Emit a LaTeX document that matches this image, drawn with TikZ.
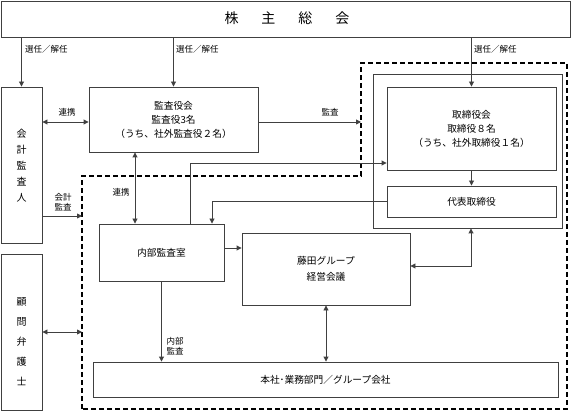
\documentclass[tikz,border=0pt]{standalone}
\usepackage{fontspec}
\setmainfont{Noto Sans CJK JP}
\usetikzlibrary{arrows.meta,calc}
\begin{document}
\begin{tikzpicture}[x=1pt,y=-1pt,
  line/.style={draw=black!75,line width=0.9pt},
  box/.style={line,rectangle,inner sep=0pt,anchor=center,font=\fontsize{9.7}{14}\selectfont,align=center},
  arr/.style={line,-{Triangle[length=5pt,width=5pt]}},
  dbl/.style={line,{Triangle[length=5pt,width=5pt]}-{Triangle[length=5pt,width=5pt]}},
  lbl/.style={font=\fontsize{8.5}{10.5}\selectfont,inner sep=0pt,align=center},
  vtext/.style={font=\fontsize{10}{16}\selectfont,inner sep=0pt,align=center},
  dashline/.style={draw=black,line width=1.6pt,dash pattern=on 5pt off 3pt}
]
\useasboundingbox (0,0) rectangle (572,411);
% helper coordinates
\coordinate (y122) at (0,122);
\coordinate (y163) at (0,163);
\coordinate (y216) at (0,216);
\coordinate (y248) at (0,248);
\coordinate (y266) at (0,266);
\coordinate (c135) at (135,0);
\coordinate (c190) at (190,0);
\coordinate (c212) at (212,0);
\coordinate (c471) at (471,0);
% dashed region
\coordinate (d1) at (82,409);
\coordinate (d2) at (82,176);
\coordinate (d3) at (361,176);
\coordinate (d4) at (361,63);
\coordinate (d5) at (567,63);
\coordinate (d6) at (567,409);
\draw[dashline] (d1) -- (d2) -- (d3) -- (d4) -- (d5) -- (d6) -- cycle;

% boxes
\node[box,minimum width=569pt,minimum height=36pt] (top) at (285.5,19) {};
\node[font=\fontsize{14}{16}\selectfont,inner sep=0pt] (toptext) at (287,18) {株\hspace{23pt}主\hspace{23pt}総\hspace{23pt}会};
\node[box,minimum width=41pt,minimum height=156pt] (kaikei) at (21.5,165) {};
\node[vtext] (kaikeitext) at (21.5,166) {会\\計\\監\\査\\人};
\node[box,minimum width=41pt,minimum height=156pt] (komon) at (21.5,332) {};
\node[vtext,font=\fontsize{10}{20}\selectfont] (komontext) at (21.5,342) {顧\\問\\弁\\護\\士};
\node[box,minimum width=169pt,minimum height=65pt] (kansa) at (173.5,119.5) {監査役会\\監査役3名\\（うち、社外監査役２名）};
\node[box,minimum width=189pt,minimum height=154pt] (outer) at (467.5,151) {};
\node[box,minimum width=169pt,minimum height=83pt] (tori) at (471.5,128.5) {取締役会\\取締役８名\\（うち、社外取締役１名）};
\node[box,minimum width=169pt,minimum height=31pt] (daihyo) at (471.5,201.5) {代表取締役};
\node[box,minimum width=125pt,minimum height=57pt] (naibu) at (161.5,252.5) {内部監査室};
\node[box,minimum width=168pt,minimum height=72pt,font=\fontsize{9.7}{16}\selectfont] (fujita) at (326,269) {藤田グループ\\経営会議};
\node[box,minimum width=465pt,minimum height=35pt] (honsha) at (325.5,379.5) {本社･業務部門／グループ会社};

% connectors from top
\draw[arr] (top.south -| kaikei.north) -- (kaikei.north);
\draw[arr] (top.south -| kansa.north) -- (kansa.north);
\draw[arr] (top.south -| tori.north) -- (tori.north);
\node[lbl,anchor=west] (l1) at (25,49) {選任／解任};
\node[lbl,anchor=west] (l2) at (176,49) {選任／解任};
\node[lbl,anchor=west] (l3) at (474,49) {選任／解任};

% 連携 between kaikei and kansa
\draw[dbl] (kaikei.east |- y122) -- (kansa.west |- y122);
\node[lbl] (l4) at (67,112) {連携};
% 監査
\draw[arr] (kansa.east |- y122) -- (d4 |- y122);
\node[lbl] (l5) at (330,112) {監査};
% 連携 kansa - naibu
\draw[dbl] (kansa.south -| c135) -- (naibu.north -| c135);
\node[lbl] (l6) at (121,192) {連携};
% naibu -> tori
\draw[arr] (naibu.north -| c190) |- (tori.west |- y163);
% daihyo -> naibu
\draw[arr] (daihyo.west) -| (naibu.north -| c212);
% 会計監査
\draw[arr] (kaikei.east |- y216) -- (d2 |- y216);
\node[lbl] (l7) at (63,202) {会計\\監査};
% tori -> daihyo
\draw[arr] (tori.south) -- (daihyo.north);
% naibu -> fujita
\draw[arr] (naibu.east |- y248) -- (fujita.west |- y248);
% fujita <-> outer
\draw[dbl] (fujita.east |- y266) -| (outer.south -| c471);
% fujita <-> honsha
\draw[dbl] (fujita.south) -- (fujita.south |- honsha.north);
% naibu -> honsha
\draw[arr] (naibu.south) -- (naibu.south |- honsha.north);
\node[lbl] (l8) at (175,346) {内部\\監査};
% komon <-> dashed region
\draw[dbl] (komon.east) -- (d1 |- komon.east);
\end{tikzpicture}
\end{document}
